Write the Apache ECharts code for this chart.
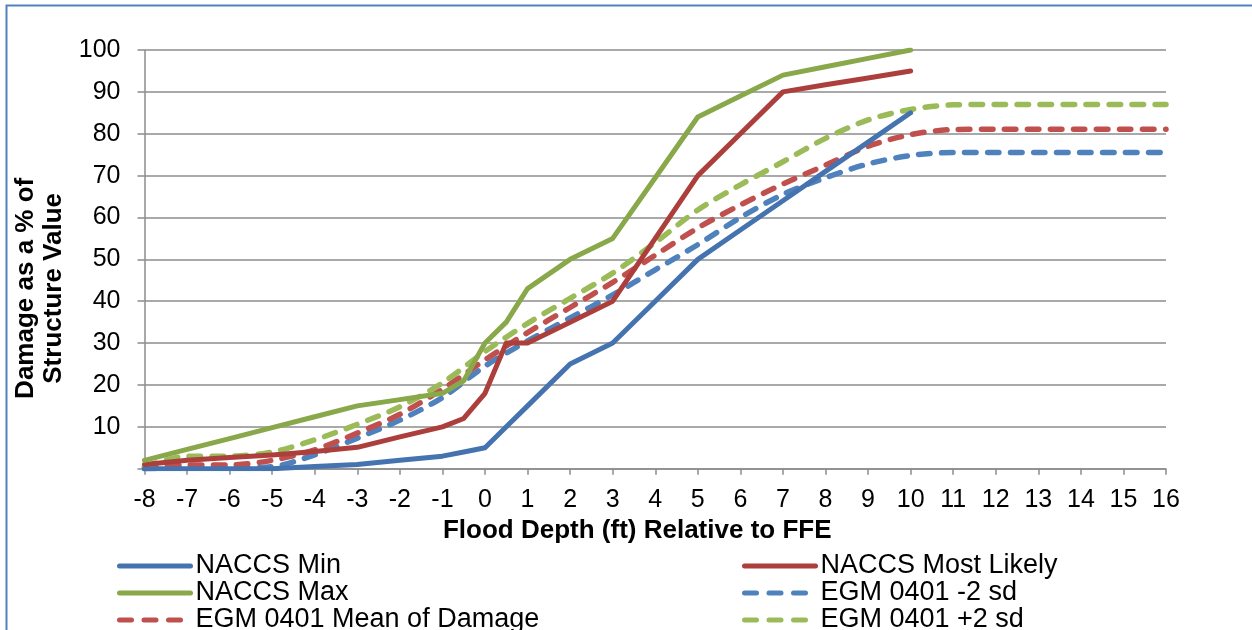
<!DOCTYPE html>
<html><head><meta charset="utf-8">
<script src="https://cdn.jsdelivr.net/npm/echarts@6/dist/echarts.min.js"></script>
<style>html,body{margin:0;padding:0;background:#fff}#c{width:1252px;height:630px}</style>
</head><body><div id="c"></div>
<script>
// ---- data ----
const naccsDepth      = [-8, -7, -6, -5, -4, -3, -2, -1, -0.5, 0, 0.5, 1, 2, 3, 4, 5, 6, 7, 8, 9, 10];
const naccsMin        = [0, 0, 0, 0, 0.5, 1, 2, 3, 4, 5, 10, 15, 25, 30, 40, 50, 57, 64, 71, 78, 85];
const naccsMostLikely = [1, 2, 2.7, 3.3, 4.1, 5.1, 7.6, 10, 12, 18, 30, 30, 35, 40, 55, 70, 80, 90, 91.7, 93.3, 95];
const naccsMax        = [2, 4.6, 7.2, 9.8, 12.4, 15, 16.5, 18, 21, 30, 35, 43, 50, 55, 69.5, 84, 89, 94, 96, 98, 100];

const egmDepth    = [-8, -7, -6, -5, -4, -3, -2, -1, 0, 1, 2, 3, 4, 5, 6, 7, 8, 9, 10, 11, 12, 13, 14, 15, 16];
const egmMinus2sd = [0, 0.2, 0.2, 0.5, 3.3, 7.3, 11.6, 17, 24.5, 30.5, 36, 41.5, 47.5, 53.5, 60, 65.5, 69.5, 72.8, 74.8, 75.5, 75.5, 75.5, 75.5, 75.5, 75.5];
const egmMean     = [0.2, 0.9, 0.9, 2, 4.5, 8.5, 13, 19, 26, 32.5, 38.5, 44.5, 51, 57.5, 63, 68, 72.5, 77, 79.8, 81, 81.1, 81.1, 81.1, 81.1, 81.1];
const egmPlus2sd  = [0.5, 3, 3, 4, 6.9, 10.6, 14.8, 20.5, 28, 34.7, 40.7, 46.7, 54, 61.8, 67.8, 73.3, 78.9, 83.3, 85.8, 86.9, 87, 87, 87, 87, 87];

const seriesNames = ['NACCS Min', 'NACCS Most Likely', 'NACCS Max', 'EGM 0401 -2 sd', 'EGM 0401 Mean of Damage', 'EGM 0401 +2 sd'];
const xTitle = 'Flood Depth (ft) Relative to FFE';
const yTitle = 'Damage as a % of\nStructure Value';

// ---- build ----
const pairs = (xs, ys) => xs.map((x, i) => [x, ys[i]]);
const FONT = '"Liberation Sans", Arial, sans-serif';
const gridGray = '#8c8c8c';
const dash = [11.5, 11.5];
const legendDash = [12, 12.5];
const LW = 5;

function solid(name, xs, ys, color) {
  return { name, type: 'line', data: pairs(xs, ys), symbol: 'none', showSymbol: false, smooth: false,
    color, itemStyle: { color }, lineStyle: { color, width: LW, cap: 'round', join: 'round' }, z: 3 };
}
function dashed(name, xs, ys, color) {
  return { name, type: 'line', data: pairs(xs, ys), symbol: 'none', showSymbol: false, smooth: 0.3,
    color, itemStyle: { color }, lineStyle: { color, width: 5.5, type: dash, cap: 'round', join: 'round' }, z: 2 };
}
const solidItem = name => ({ name });
const dashItem = name => ({ name, lineStyle: { type: legendDash, width: 5, cap: 'round' } });
const legendCommon = {
  orient: 'vertical', top: 552.5, height: 100, padding: 0,
  itemWidth: 71, itemHeight: 14, itemGap: 0,
  itemStyle: { color: 'rgba(0,0,0,0)', borderWidth: 0, opacity: 0 },
  lineStyle: { width: 5, cap: 'round' },
  textStyle: { fontSize: 27, color: '#000', fontFamily: FONT, lineHeight: 27 }
};

const chart = echarts.init(document.getElementById('c'), null, { renderer: 'canvas' });
chart.setOption({
  animation: false,
  backgroundColor: '#fff',
  textStyle: { fontFamily: FONT },
  graphic: [{ type: 'rect', silent: true, shape: { x: 6.5, y: 5.5, width: 3000, height: 3000 },
    style: { fill: 'none', stroke: '#4f81bd', lineWidth: 2 } }],
  grid: { left: 144.5, right: 86, top: 50, bottom: 161.3, containLabel: false },
  xAxis: {
    type: 'value', min: -8, max: 16, interval: 1,
    name: xTitle, nameLocation: 'middle', nameGap: 46,
    nameTextStyle: { fontSize: 26, fontWeight: 'bold', color: '#000', fontFamily: FONT, padding: [0, 36, 0, 0] },
    axisLine: { show: true, onZero: false, lineStyle: { color: gridGray, width: 1.5 } },
    axisTick: { show: true, length: 6, lineStyle: { color: gridGray, width: 1.5 } },
    axisLabel: { fontSize: 25, color: '#000', margin: 19, fontFamily: FONT },
    splitLine: { show: false }
  },
  yAxis: {
    type: 'value', min: 0, max: 100, interval: 10,
    name: yTitle, nameLocation: 'middle', nameGap: 58, nameRotate: 90,
    nameTextStyle: { fontSize: 26, fontWeight: 'bold', color: '#000', fontFamily: FONT, lineHeight: 28, padding: [0, 58, 0, 0] },
    axisLine: { show: true, onZero: false, lineStyle: { color: gridGray, width: 1.5 } },
    axisTick: { show: true, length: 7, lineStyle: { color: gridGray, width: 1.5 } },
    axisLabel: { fontSize: 25, color: '#000', margin: 24, fontFamily: FONT, formatter: v => v === 0 ? '' : String(v) },
    splitLine: { show: true, lineStyle: { color: gridGray, width: 1.5 } }
  },
  legend: [
    Object.assign({ data: [solidItem(seriesNames[0]), solidItem(seriesNames[2]), dashItem(seriesNames[4])], left: 117 }, legendCommon),
    Object.assign({ data: [solidItem(seriesNames[1]), dashItem(seriesNames[3]), dashItem(seriesNames[5])], left: 742 }, legendCommon)
  ],
  series: [
    solid(seriesNames[0], naccsDepth, naccsMin, '#4573b0'),
    solid(seriesNames[1], naccsDepth, naccsMostLikely, '#ac3f3c'),
    solid(seriesNames[2], naccsDepth, naccsMax, '#88a84a'),
    dashed(seriesNames[3], egmDepth, egmMinus2sd, '#4f81bd'),
    dashed(seriesNames[4], egmDepth, egmMean, '#c0504d'),
    dashed(seriesNames[5], egmDepth, egmPlus2sd, '#9bbb59')
  ]
});
</script></body></html>
